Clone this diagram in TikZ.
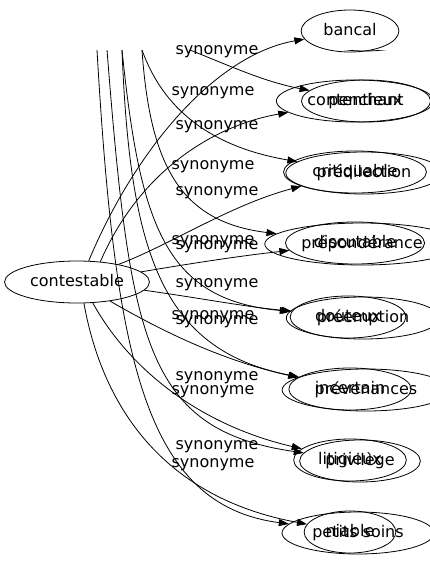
\documentclass[tikz,border=0pt]{standalone}
\usepackage{fontspec}
\setmainfont{DejaVu Sans}
\usetikzlibrary{arrows.meta,shapes.geometric}

\tikzset{
  word/.style={ellipse, draw, inner xsep=8pt, minimum height=42pt,
    text height=12pt, text depth=3.5pt, font=\fontsize{16}{19}\selectfont},
  lbl/.style={inner sep=0pt, font=\fontsize{16}{19}\selectfont},
  syn/.style={-{Triangle[length=10pt,width=7pt]}},
}

\begin{document}
\begin{tikzpicture}[x=1pt, y=-1pt, line width=0.8pt]
  \useasboundingbox (0,0) rectangle (430,563);

  % first graph
  \node[word, inner xsep=4pt, minimum width=145pt] (c) at (77,282) {contestable};
  \node[word] (a1) at (350,31) {bancal};
  \node[word] (a2) at (355,101) {contentieux};
  \node[word] (a3) at (355,172) {critiquable};
  \node[word] (a4) at (355,243) {discutable};
  \node[word] (a5) at (348,317) {douteux};
  \node[word] (a6) at (350,389) {incertain};
  \node[word] (a7) at (350,460) {litigieux};
  \node[word] (a8) at (350,532) {niable};

  \node[lbl] (la1) at (217,52) {synonyme};
  \node[lbl] (la2) at (217,127) {synonyme};
  \node[lbl] (la3) at (217,193) {synonyme};
  \node[lbl] (la4) at (217,247) {synonyme};
  \node[lbl] (la5) at (217,285) {synonyme};
  \node[lbl] (la6) at (217,322) {synonyme};
  \node[lbl] (la7) at (217,378) {synonyme};
  \node[lbl] (la8) at (217,447) {synonyme};

  \draw[syn] (c.61) .. controls (135,150) and (215,55) .. (a1);
  \draw[syn] (c.41) .. controls (140,170) and (215,125) .. (a2);
  \draw[syn] (c.23) .. controls (170,245) and (230,205) .. (a3);
  \draw[syn] (c.9) .. controls (200,262) and (240,256) .. (a4);
  \draw[syn] (c.-7) .. controls (200,298) and (240,306) .. (a5);
  \draw[syn] (c.-30) .. controls (160,330) and (220,360) .. (a6);
  \draw[syn] (c.-53) .. controls (130,370) and (200,425) .. (a7);
  \draw[syn] (c.-72) .. controls (105,420) and (175,500) .. (a8);

  % second graph, cut off at the top
  \begin{scope}
    \clip (0,50) rectangle (430,563);
    \node[word, minimum width=120pt] (b1) at (365,30) {};
    \node[word] (b2) at (366,101) {penchant};
    \node[word] (b3) at (364,173) {prédilection};
    \node[word] (b4) at (362,244) {prépondérance};
    \node[word] (b5) at (363,318) {préemption};
    \node[word] (b6) at (366,390) {prévenances};
    \node[word] (b7) at (360,461) {privilège};
    \node[word] (b8) at (358,533) {petits soins};

    \node[lbl] (lb2) at (213,93) {synonyme};
    \node[lbl] (lb3) at (213,167) {synonyme};
    \node[lbl] (lb4) at (213,242) {synonyme};
    \node[lbl] (lb5) at (213,317) {synonyme};
    \node[lbl] (lb6) at (213,392) {synonyme};
    \node[lbl] (lb7) at (213,465) {synonyme};

    \coordinate (t1) at (97,50);
    \coordinate (t2) at (107,50);
    \coordinate (t3) at (122,50);
    \coordinate (t4) at (142,50);
    \coordinate (t5) at (190,50);

    \draw[syn] (t5) .. controls (230,66) and (265,82) .. (b2);
    \draw[syn] (t4) .. controls (160,100) and (200,145) .. (b3);
    \draw[syn] (t4) .. controls (150,165) and (180,222) .. (b4);
    \draw[syn] (t3) .. controls (140,225) and (165,300) .. (b5);
    \draw[syn] (t3) .. controls (130,250) and (160,350) .. (b6);
    \draw[syn] (t2) .. controls (130,340) and (145,430) .. (b7);
    \draw[syn] (t1) .. controls (115,360) and (145,505) .. (b8);
  \end{scope}
\end{tikzpicture}
\end{document}
